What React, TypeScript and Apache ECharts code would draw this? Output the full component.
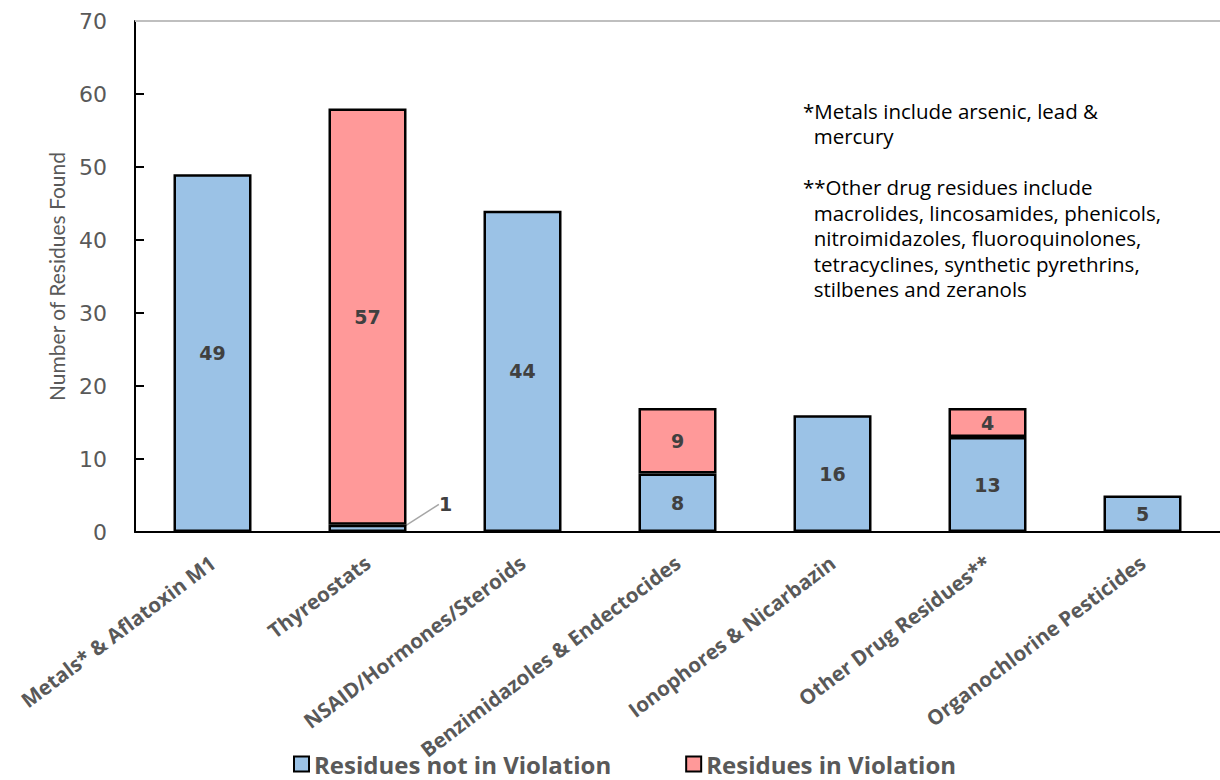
import React, { useEffect, useRef } from "react";
import * as echarts from "echarts";

const categories = [
  "Metals* & Aflatoxin M1",
  "Thyreostats",
  "NSAID/Hormones/Steroids",
  "Benzimidazoles & Endectocides",
  "Ionophores & Nicarbazin",
  "Other Drug Residues**",
  "Organochlorine Pesticides",
];
const notInViolation = [49, 1, 44, 8, 16, 13, 5];
const inViolation: (number | null)[] = [null, 57, null, 9, null, 4, null];
const yTicks = { min: 0, max: 70, interval: 10 };
const noteLines = [
  "*Metals include arsenic, lead &",
  "  mercury",
  "",
  "**Other drug residues include",
  "  macrolides, lincosamides, phenicols,",
  "  nitroimidazoles, fluoroquinolones,",
  "  tetracyclines, synthetic pyrethrins,",
  "  stilbenes and zeranols",
];

const FONT = "'Open Sans', sans-serif";

export default function App() {
  const ref = useRef<HTMLDivElement>(null);
  useEffect(() => {
    if (!ref.current) return;
    const chart = echarts.init(ref.current, undefined, { renderer: "svg" });
    const labelBase = {
      show: true,
      position: "inside",
      fontFamily: "'DejaVu Sans', sans-serif",
      fontWeight: "bold",
      fontSize: 19,
      color: "#404040",
    };
    chart.setOption({
      animation: false,
      backgroundColor: "#ffffff",
      grid: { left: 135, top: 21, width: 1092, bottom: 248, containLabel: false },
      legend: {
        bottom: 3,
        left: 293,
        padding: 0,
        itemWidth: 15,
        itemHeight: 15,
        itemGap: 74,
        icon: "rect",
        textStyle: { fontFamily: FONT, fontWeight: "bold", fontSize: 24, lineHeight: 26, color: "#595959" },
        data: ["Residues not in Violation", "Residues in Violation"],
      },
      xAxis: {
        type: "category",
        data: categories,
        axisLine: { lineStyle: { color: "#000", width: 2 } },
        axisTick: { show: false },
        axisLabel: {
          rotate: 37,
          interval: 0,
          margin: 28,
          fontFamily: FONT,
          fontWeight: "bold",
          fontSize: 20.5,
          color: "#595959",
        },
      },
      yAxis: {
        type: "value",
        min: yTicks.min,
        max: yTicks.max,
        interval: yTicks.interval,
        name: "Number of Residues Found",
        nameLocation: "middle",
        nameGap: 68,
        nameTextStyle: { fontFamily: "Lato, sans-serif", fontSize: 21, color: "#595959" },
        axisLine: { show: true, lineStyle: { color: "#000", width: 2 } },
        axisTick: { show: true, inside: true, length: 9, lineStyle: { color: "#000", width: 2 } },
        splitLine: { show: false },
        axisLabel: {
          margin: 28,
          fontFamily: "'DejaVu Sans', sans-serif",
          fontSize: 22,
          color: "#595959",
        },
      },
      series: [
        {
          name: "Residues not in Violation",
          type: "bar",
          stack: "total",
          barWidth: 78,
          data: notInViolation,
          itemStyle: { color: "#9BC2E6", borderColor: "#000", borderWidth: 2.5 },
          label: labelBase,
          labelLine: { show: true, lineStyle: { color: "#A6A6A6", width: 1.5 } },
          labelLayout: (params: any) =>
            params.dataIndex === 1 ? { dx: 78, dy: -24 } : {},
          markLine: {
            silent: true,
            symbol: "none",
            label: { show: false },
            lineStyle: { color: "#BFBFBF", width: 2, type: "solid" },
            data: [{ yAxis: yTicks.max }],
          },
        },
        {
          name: "Residues in Violation",
          type: "bar",
          stack: "total",
          barWidth: 78,
          data: inViolation,
          itemStyle: { color: "#FF9999", borderColor: "#000", borderWidth: 2.5 },
          label: labelBase,
        },
      ],
      graphic: [
        {
          type: "text",
          left: 803,
          top: 98,
          style: {
            text: noteLines.join("\n"),
            fontFamily: FONT,
            fontSize: 20.5,
            lineHeight: 25.5,
            fill: "#000",
          },
        },
      ],
    });
    return () => chart.dispose();
  }, []);
  return (
    <div
      ref={ref}
      style={{ position: "fixed", left: 0, top: 0, width: 1220, height: 780 }}
    />
  );
}
